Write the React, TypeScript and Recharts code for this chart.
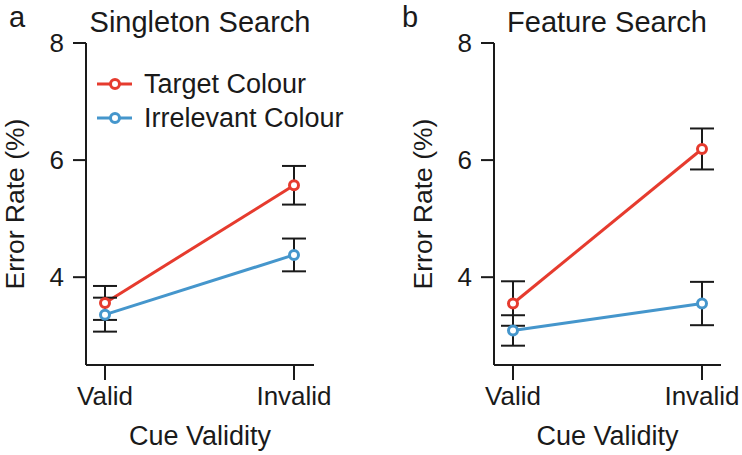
import React from 'react';
import { LineChart, Line, XAxis, YAxis, ErrorBar, Legend } from 'recharts';

const categories = ['Valid', 'Invalid'];
const seriesNames = ['Target Colour', 'Irrelevant Colour'];
const singletonTarget = [3.56, 5.57];
const singletonTargetErr = [0.29, 0.33];
const singletonIrrelevant = [3.36, 4.38];
const singletonIrrelevantErr = [0.29, 0.28];
const featureTarget = [3.55, 6.19];
const featureTargetErr = [0.38, 0.35];
const featureIrrelevant = [3.09, 3.55];
const featureIrrelevantErr = [0.26, 0.37];
const yTicks = [4, 6, 8];
const yDomain = [2.5, 8];

const RED = '#e63b2e';
const BLUE = '#4596cc';
const INK = '#1a1a1a';
const FONT = '"Liberation Sans", Arial, Helvetica, sans-serif';

const build = (t: number[], te: number[], ir: number[], ie: number[]) =>
  categories.map((c, i) => ({ cue: c, target: t[i], targetErr: te[i], irr: ir[i], irrErr: ie[i] }));

const singletonData = build(singletonTarget, singletonTargetErr, singletonIrrelevant, singletonIrrelevantErr);
const featureData = build(featureTarget, featureTargetErr, featureIrrelevant, featureIrrelevantErr);

const YLabel = (props: any) => {
  const vb = props.viewBox || {};
  const x = vb.x + vb.width - 62;
  const y = vb.y + vb.height / 2;
  return (
    <text x={x} y={y} transform={`rotate(-90, ${x}, ${y})`} textAnchor="middle" fontSize={26.5} fill={INK} fontFamily={FONT}>
      Error Rate (%)
    </text>
  );
};

const XLabel = (props: any) => {
  const vb = props.viewBox || {};
  return (
    <text x={vb.x + vb.width / 2} y={vb.y + 80} textAnchor="middle" fontSize={27} fill={INK} fontFamily={FONT}>
      Cue Validity
    </text>
  );
};

const LegendContent = (props: any) => {
  const payload = [...(props.payload || [])].sort(
    (a: any, b: any) => seriesNames.indexOf(a.value) - seriesNames.indexOf(b.value)
  );
  return (
    <div style={{ fontFamily: FONT }}>
      {payload.map((p: any) => (
        <div key={p.value} style={{ display: 'flex', alignItems: 'center', height: 34 }}>
          <svg width={47} height={34} style={{ display: 'block' }}>
            <line x1={0} x2={35} y1={17} y2={17} stroke={p.color} strokeWidth={3} />
            <circle cx={18} cy={17} r={4.5} fill="#fff" stroke={p.color} strokeWidth={3} />
          </svg>
          <span style={{ fontSize: 27, color: INK, lineHeight: '34px', whiteSpace: 'nowrap' }}>{p.value}</span>
        </div>
      ))}
    </div>
  );
};

const tickStyle = { fill: INK, fontSize: 26, fontFamily: FONT };

type PanelProps = {
  data: any[];
  yAxisWidth: number;
  marginRight: number;
  padLeft: number;
  padRight: number;
  showLegend: boolean;
};

const Panel = ({ data, yAxisWidth, marginRight, padLeft, padRight, showLegend }: PanelProps) => (
  <LineChart width={371} height={455} data={data} margin={{ top: 43, right: marginRight, bottom: 0, left: 0 }}>
    <XAxis
      dataKey="cue"
      type="category"
      height={90}
      padding={{ left: padLeft, right: padRight }}
      tick={tickStyle}
      tickSize={15}
      tickMargin={7}
      axisLine={{ stroke: INK, strokeWidth: 2 }}
      tickLine={{ stroke: INK, strokeWidth: 2 }}
      label={{ content: XLabel }}
    />
    <YAxis
      type="number"
      domain={yDomain}
      ticks={yTicks}
      width={yAxisWidth}
      tick={tickStyle}
      tickSize={13}
      tickMargin={9}
      axisLine={{ stroke: INK, strokeWidth: 2 }}
      tickLine={{ stroke: INK, strokeWidth: 2 }}
      allowDataOverflow
      label={{ content: YLabel }}
    />
    {showLegend && (
      <Legend
        layout="vertical"
        verticalAlign="middle"
        align="center"
        content={LegendContent}
        wrapperStyle={{ left: 97, top: 67, width: 'auto' }}
      />
    )}
    <Line
      name="Target Colour"
      dataKey="target"
      stroke={RED}
      strokeWidth={3}
      dot={{ r: 4.5, fill: '#fff', stroke: RED, strokeWidth: 3 }}
      isAnimationActive={false}
    >
      <ErrorBar dataKey="targetErr" width={12} strokeWidth={2} stroke={INK} direction="y" />
    </Line>
    <Line
      name="Irrelevant Colour"
      dataKey="irr"
      stroke={BLUE}
      strokeWidth={3}
      dot={{ r: 4.5, fill: '#fff', stroke: BLUE, strokeWidth: 3 }}
      isAnimationActive={false}
    >
      <ErrorBar dataKey="irrErr" width={12} strokeWidth={2} stroke={INK} direction="y" />
    </Line>
  </LineChart>
);

export default function App() {
  return (
    <div style={{ position: 'absolute', left: 0, top: 0, width: 742, height: 455, background: '#fff', fontFamily: FONT }}>
      <div style={{ position: 'absolute', left: 0, top: 0 }}>
        <Panel data={singletonData} yAxisWidth={86} marginRight={57} padLeft={19} padRight={20} showLegend />
      </div>
      <div style={{ position: 'absolute', left: 371, top: 0 }}>
        <Panel data={featureData} yAxisWidth={123} marginRight={21} padLeft={19} padRight={19} showLegend={false} />
      </div>
      <svg width={742} height={455} style={{ position: 'absolute', left: 0, top: 0, pointerEvents: 'none' }}>
        <text x={9} y={27} fontSize={29} fill={INK} fontFamily={FONT}>a</text>
        <text x={402} y={27} fontSize={29} fill={INK} fontFamily={FONT}>b</text>
        <text x={200} y={32} fontSize={29} textAnchor="middle" fill={INK} fontFamily={FONT}>Singleton Search</text>
        <text x={607} y={32} fontSize={29} textAnchor="middle" fill={INK} fontFamily={FONT}>Feature Search</text>
      </svg>
    </div>
  );
}
